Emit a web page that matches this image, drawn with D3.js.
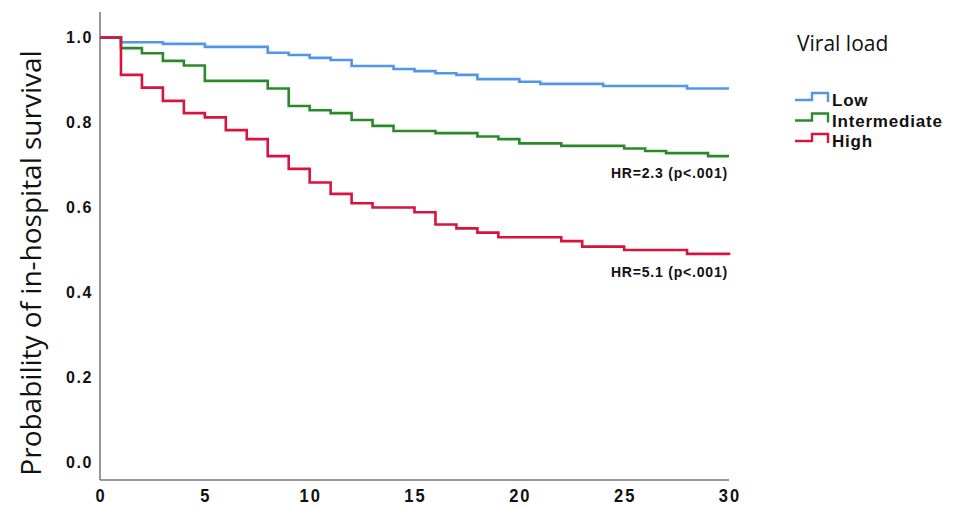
<!DOCTYPE html>
<html>
<head>
<meta charset="utf-8">
<script src="https://cdn.jsdelivr.net/npm/d3@7"></script>
<style>
  body { margin: 0; background: #fff; }
  svg { display: block; }
</style>
</head>
<body>
<div id="chart"></div>
<script>
// survival steps (day, probability)
const lowDays  = [0, 1, 3, 5, 8, 9, 10, 11, 12, 14, 15, 16, 17, 18, 20, 21, 24, 28, 30];
const lowSurv  = [1.0, 0.989, 0.985, 0.978, 0.964, 0.959, 0.952, 0.947, 0.933, 0.926, 0.921, 0.916, 0.912, 0.902, 0.896, 0.891, 0.886, 0.880, 0.880];

const midDays  = [0, 1, 2, 3, 4, 5, 8, 9, 10, 11, 12, 13, 14, 16, 18, 19, 20, 22, 25, 26, 27, 29, 30];
const midSurv  = [1.0, 0.975, 0.963, 0.945, 0.934, 0.898, 0.880, 0.839, 0.829, 0.822, 0.806, 0.792, 0.780, 0.775, 0.767, 0.761, 0.751, 0.745, 0.739, 0.733, 0.728, 0.721, 0.721];

const highDays = [0, 1, 2, 3, 4, 5, 6, 7, 8, 9, 10, 11, 12, 13, 15, 16, 17, 18, 19, 22, 23, 25, 28, 30];
const highSurv = [1.0, 0.912, 0.882, 0.851, 0.822, 0.812, 0.782, 0.761, 0.721, 0.691, 0.659, 0.632, 0.610, 0.600, 0.589, 0.560, 0.551, 0.541, 0.530, 0.521, 0.508, 0.500, 0.491, 0.488];

const groupNames = ["Low", "Intermediate", "High"];
const groupColors = ["#5097e8", "#2a8a2a", "#d8143e"];

const xTicks = [0, 5, 10, 15, 20, 25, 30];
const yTicks = [0.0, 0.2, 0.4, 0.6, 0.8, 1.0];

const hrLabels = ["HR=2.3 (p<.001)", "HR=5.1 (p<.001)"];
const hrAt = [{day: 30, surv: 0.721}, {day: 30, surv: 0.488}];

const W = 960, H = 507;

const svg = d3.select("#chart").append("svg")
    .attr("width", W)
    .attr("height", H);

const x = d3.scaleLinear().domain([0, 30]).range([100, 729]);
const y = d3.scaleLinear().domain([0, 1]).range([462.5, 37.5]);

const axisColor = "#777";
const boldFont = "'Liberation Sans', Arial, sans-serif";
const plainFont = "'Open Sans', 'Noto Sans', sans-serif";

// axes lines (SPSS style, no tick marks)
svg.append("line")
    .attr("x1", x(0)).attr("x2", x(0))
    .attr("y1", y(1.06)).attr("y2", y(-0.041))
    .attr("stroke", axisColor).attr("stroke-width", 1.5);
svg.append("line")
    .attr("x1", x(0)).attr("x2", x(30))
    .attr("y1", y(-0.041)).attr("y2", y(-0.041))
    .attr("stroke", axisColor).attr("stroke-width", 1.5);

svg.selectAll(".ytick")
    .data(yTicks)
    .join("text")
    .attr("class", "ytick")
    .attr("x", 93)
    .attr("y", d => y(d))
    .attr("dy", "0.36em")
    .attr("text-anchor", "end")
    .style("font-family", boldFont)
    .style("font-weight", "bold")
    .style("font-size", "16px")
    .style("letter-spacing", "1.6px")
    .attr("fill", "#111")
    .text(d => d.toFixed(1));

// x labels in the source look a bit taller than wide
svg.selectAll(".xtick")
    .data(xTicks)
    .join("text")
    .attr("class", "xtick")
    .attr("transform", d => `translate(${x(d) + 1},502) scale(1,1.15)`)
    .attr("text-anchor", "middle")
    .style("font-family", boldFont)
    .style("font-weight", "bold")
    .style("font-size", "16.5px")
    .style("letter-spacing", "2px")
    .attr("fill", "#111")
    .text(d => d);

svg.append("text")
    .attr("transform", "translate(41,263) rotate(-90)")
    .attr("text-anchor", "middle")
    .style("font-family", plainFont)
    .style("font-size", "28px")
    .attr("fill", "#111")
    .text("Probability of in-hospital survival");

// curves
const series = [
    {days: lowDays, surv: lowSurv},
    {days: midDays, surv: midSurv},
    {days: highDays, surv: highSurv}
];

const line = d3.line()
    .x(d => x(d[0]))
    .y(d => y(d[1]))
    .curve(d3.curveStepAfter);

svg.selectAll(".km")
    .data(series)
    .join("path")
    .attr("class", "km")
    .attr("d", s => line(s.days.map((t, i) => [t, s.surv[i]])))
    .attr("fill", "none")
    .attr("stroke", (s, i) => groupColors[i])
    .attr("stroke-width", 2.6);

// hazard ratio notes
svg.selectAll(".hr")
    .data(hrLabels)
    .join("text")
    .attr("class", "hr")
    .attr("x", (d, i) => x(hrAt[i].day) - 1)
    .attr("y", (d, i) => y(hrAt[i].surv) + 22)
    .attr("text-anchor", "end")
    .style("font-family", boldFont)
    .style("font-weight", "bold")
    .style("font-size", "14px")
    .style("letter-spacing", "0.8px")
    .attr("fill", "#111")
    .text(d => d);

// legend
svg.append("text")
    .attr("x", 797).attr("y", 51)
    .style("font-family", plainFont)
    .style("font-size", "21px")
    .attr("fill", "#111")
    .text("Viral load");

const leg = svg.selectAll(".leg")
    .data(groupNames)
    .join("g")
    .attr("class", "leg")
    .attr("transform", (d, i) => `translate(795,${100 + i * 20.5})`);

leg.append("path")
    .attr("d", "M0,0H17V-7H33V2")
    .attr("fill", "none")
    .attr("stroke", (d, i) => groupColors[i])
    .attr("stroke-width", 2.4);

leg.append("text")
    .attr("x", 37).attr("y", 6)
    .style("font-family", boldFont)
    .style("font-weight", "bold")
    .style("font-size", "17px")
    .style("letter-spacing", "0.8px")
    .attr("fill", "#111")
    .text(d => d);
</script>
</body>
</html>
